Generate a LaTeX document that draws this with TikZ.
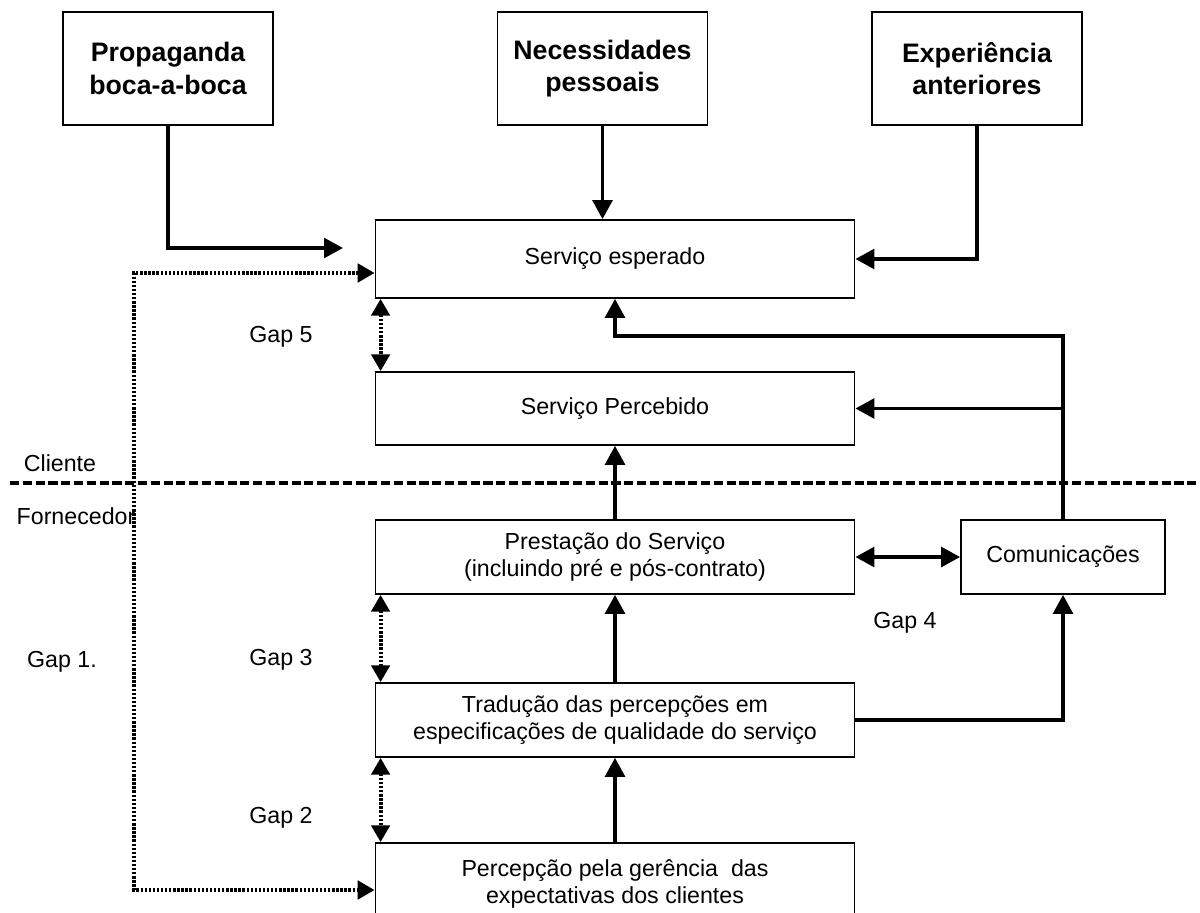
\documentclass[tikz,border=0pt]{standalone}
\usepackage{fontspec}
\setmainfont{Liberation Sans}
\usepackage{tikz}
\usetikzlibrary{positioning, arrows.meta, calc}

\begin{document}
\begin{tikzpicture}[x=0.025cm, y=-0.025cm,
    origem/.style={draw, line width=1.2pt, minimum width=5.25cm, minimum height=2.825cm, align=center, font=\fontsize{19}{23}\selectfont\bfseries},
    caixa/.style={draw, line width=1.2pt, minimum width=11.975cm, minimum height=1.85cm, align=center, font=\fontsize{16.5}{19}\selectfont},
    rotulo/.style={font=\fontsize{16.5}{19}\selectfont},
    seta/.style={line width=2.6pt, -{Triangle[length=13.5pt, width=14pt]}},
    duplaseta/.style={line width=2.6pt, {Triangle[length=13.5pt, width=14pt]}-{Triangle[length=13.5pt, width=14pt]}},
    gapseta/.style={line width=2.8pt, dash pattern=on 1.7pt off 1.2pt, {Triangle[length=12pt, width=13pt]}-{Triangle[length=12pt, width=13pt]}}]
  \useasboundingbox (0,0) rectangle (1200,912);

  % fontes das expectativas
  \node[origem] (prop) at (168,68.5) {Propaganda\\boca-a-boca};
  \node[origem] (necess) at (602.5,68.5) {Necessidades\\pessoais};
  \node[origem] (exper) at (977,68.5) {Experiência\\anteriores};

  % caixas do modelo
  \node[caixa, minimum height=1.95cm] (esperado) at (615,259) {Serviço esperado};
  \node[caixa, minimum height=1.825cm] (percebido) at (615,408.5) {Serviço Percebido};
  \node[caixa] (prestacao) at (615,557) {Prestação do Serviço\\(incluindo pré e pós-contrato)};
  \node[caixa, minimum width=5.1cm] (comunic) at (1063,557) {Comunicações};
  \node[caixa] (traducao) at (615,720) {Tradução das percepções em\\especificações de qualidade do serviço};
  \node[caixa, minimum height=2.05cm] (percepcao) at (615,884) {Percepção pela gerência\ \ das\\expectativas dos clientes};

  % rotulos
  \node[rotulo] (cliente) at (60,463) {Cliente};
  \node[rotulo] (fornec) at (76,516) {Fornecedor};
  \node[rotulo] (gapum) at (62,662) {Gap 1.};
  \node[rotulo] (gapcinco) at (281,337) {Gap 5};
  \node[rotulo] (gaptres) at (281,660) {Gap 3};
  \node[rotulo] (gapdois) at (281,818) {Gap 2};
  \node[rotulo] (gapquatro) at (905,623) {Gap 4};

  % linha cliente / fornecedor
  \coordinate (divesq) at (10,483);
  \coordinate (divdir) at (1200,483);
  \draw[line width=2.4pt, dash pattern=on 6.5pt off 2.6pt] (divesq) -- (divdir);

  % ligacoes
  \coordinate (propfim) at (343,248);
  \coordinate (retorno) at (1063,336);
  \coordinate (gapumlinha) at (134,580);
  \draw[seta] (prop.south) |- (propfim);
  \draw[seta] (necess.south) -- (necess.south |- esperado.north);
  \draw[seta] (exper.south) |- (esperado.east);
  \draw[seta] (comunic.north) -- (retorno) -| (esperado.south);
  \draw[seta] (comunic.north |- percebido.east) -- (percebido.east);
  \draw[seta] (prestacao.north) -- (percebido.south);
  \draw[duplaseta] (prestacao.east) -- (comunic.west);
  \draw[seta] (traducao.north) -- (prestacao.south);
  \draw[seta] (traducao.east) -| (comunic.south);
  \draw[seta] (percepcao.north) -- (traducao.south);

  % gaps
  \draw[gapseta] ($(esperado.west)+(0,14)$) -| (gapumlinha) |- ($(percepcao.west)+(0,6)$);
  \draw[gapseta] ($(esperado.south west)+(6,0)$) -- ($(percebido.north west)+(6,0)$);
  \draw[gapseta] ($(prestacao.south west)+(6,0)$) -- ($(traducao.north west)+(6,0)$);
  \draw[gapseta] ($(traducao.south west)+(6,0)$) -- ($(percepcao.north west)+(6,0)$);
\end{tikzpicture}
\end{document}
